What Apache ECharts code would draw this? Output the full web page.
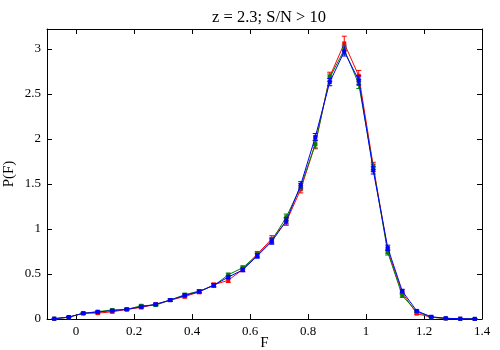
<!DOCTYPE html>
<html><head><meta charset="utf-8">
<script src="https://cdn.jsdelivr.net/npm/echarts@6/dist/echarts.min.js"></script>
<style>html,body{margin:0;padding:0;background:#fff}#c{width:500px;height:350px}</style>
</head><body><div id="c"></div>
<script>
const F = [-0.075,-0.025,0.025,0.075,0.125,0.175,0.225,0.275,0.325,0.375,0.425,0.475,0.525,0.575,0.625,0.675,0.725,0.775,0.825,0.875,0.925,0.975,1.025,1.075,1.125,1.175,1.225,1.275,1.325,1.375];
const redP   = [0.003,0.02,0.065,0.065,0.08,0.107,0.129,0.163,0.21,0.25,0.30,0.38,0.43,0.55,0.72,0.89,1.08,1.44,1.94,2.69,3.06,2.70,1.70,0.76,0.29,0.06,0.02,0.006,0.002,0.001];
const greenP = [0.003,0.02,0.063,0.082,0.10,0.107,0.147,0.155,0.21,0.27,0.31,0.37,0.49,0.57,0.71,0.87,1.13,1.47,1.94,2.68,2.99,2.61,1.68,0.74,0.26,0.08,0.02,0.006,0.002,0.001];
const blueP  = [0.003,0.022,0.063,0.078,0.092,0.107,0.136,0.163,0.21,0.262,0.305,0.375,0.465,0.545,0.70,0.86,1.09,1.49,2.02,2.63,2.97,2.65,1.65,0.79,0.31,0.09,0.025,0.008,0.003,0.001];
const redE   = [0.003,0.005,0.01,0.01,0.012,0.012,0.015,0.015,0.015,0.018,0.02,0.02,0.025,0.025,0.03,0.035,0.04,0.04,0.05,0.05,0.08,0.06,0.04,0.03,0.02,0.01,0.005,0.003,0.002,0.001];
const greenE = [0.003,0.005,0.008,0.008,0.01,0.01,0.012,0.012,0.012,0.015,0.015,0.018,0.02,0.02,0.025,0.03,0.035,0.035,0.04,0.04,0.05,0.05,0.04,0.03,0.02,0.01,0.005,0.003,0.002,0.001];
const blueE  = [0.003,0.005,0.008,0.008,0.01,0.01,0.012,0.012,0.012,0.015,0.015,0.018,0.02,0.02,0.025,0.03,0.035,0.035,0.04,0.04,0.05,0.05,0.04,0.03,0.02,0.01,0.005,0.003,0.002,0.001];
const xTicks = [0,0.2,0.4,0.6,0.8,1,1.2,1.4];
const yTicks = [0,0.5,1,1.5,2,2.5,3];
const titleText = 'z = 2.3; S/N > 10';

const serif = 'Liberation Serif';
function lineSeries(name, vals, color, z){
  return {name, type:'line', data:F.map((f,i)=>[f,vals[i]]), symbol:'rect', symbolSize:4,
    lineStyle:{color, width:1}, itemStyle:{color}, z, animation:false};
}
function errSeries(vals, errs, color, z){
  return {type:'custom', z, animation:false,
    data:F.map((f,i)=>[f, vals[i]-errs[i], vals[i]+errs[i]]),
    renderItem:(params, api)=>{
      const lo = api.coord([api.value(0), api.value(1)]);
      const hi = api.coord([api.value(0), api.value(2)]);
      const w = 2.5;
      const st = {stroke: color, lineWidth: 1};
      return {type:'group', children:[
        {type:'line', shape:{x1:lo[0],y1:lo[1],x2:hi[0],y2:hi[1]}, style:st},
        {type:'line', shape:{x1:lo[0]-w,y1:lo[1],x2:lo[0]+w,y2:lo[1]}, style:st},
        {type:'line', shape:{x1:hi[0]-w,y1:hi[1],x2:hi[0]+w,y2:hi[1]}, style:st}
      ]};
    }};
}
const axisCommon = {
  axisLine:{show:true, onZero:false, lineStyle:{color:'#000', width:1}},
  splitLine:{show:false}
};
const chart = echarts.init(document.getElementById('c'));
chart.setOption({
  animation:false,
  title:{text:titleText, left:264, textAlign:'center', top:4, textStyle:{fontFamily:serif, fontSize:16.5, fontWeight:'normal', color:'#000'}},
  grid:{left:47, right:18, top:29, bottom:31, show:false, containLabel:false, outerBoundsMode:'none'},
  xAxis:[
    Object.assign({type:'value', min:-0.1, max:1.4, position:'bottom',
      name:'F', nameLocation:'middle', nameGap:17, nameMoveOverlap:false, nameTextStyle:{fontFamily:serif, fontSize:15, color:'#000'},
      axisTick:{show:true, inside:true, length:5, customValues:xTicks, lineStyle:{color:'#000'}},
      axisLabel:{customValues:xTicks, fontFamily:serif, fontSize:13, color:'#000', margin:6}}, axisCommon),
    Object.assign({type:'value', min:-0.1, max:1.4, position:'top',
      axisTick:{show:true, inside:true, length:5, customValues:xTicks, lineStyle:{color:'#000'}},
      axisLabel:{show:false}}, axisCommon)
  ],
  yAxis:[
    Object.assign({type:'value', min:0, max:3.22, position:'left',
      name:'P(F)', nameLocation:'middle', nameGap:30, nameMoveOverlap:false, nameRotate:90, nameTextStyle:{fontFamily:serif, fontSize:15, color:'#000'},
      axisTick:{show:true, inside:true, length:5, customValues:yTicks, lineStyle:{color:'#000'}},
      axisLabel:{customValues:yTicks, fontFamily:serif, fontSize:13, color:'#000', margin:6}}, axisCommon),
    Object.assign({type:'value', min:0, max:3.22, position:'right',
      axisTick:{show:true, inside:true, length:5, customValues:yTicks, lineStyle:{color:'#000'}},
      axisLabel:{show:false}}, axisCommon)
  ],
  series:[
    lineSeries('red', redP, '#ff0000', 2),
    errSeries(redP, redE, '#ff0000', 2),
    lineSeries('green', greenP, '#008000', 3),
    errSeries(greenP, greenE, '#008000', 3),
    lineSeries('blue', blueP, '#0000ff', 4),
    errSeries(blueP, blueE, '#0000ff', 4)
  ]
});
</script></body></html>
